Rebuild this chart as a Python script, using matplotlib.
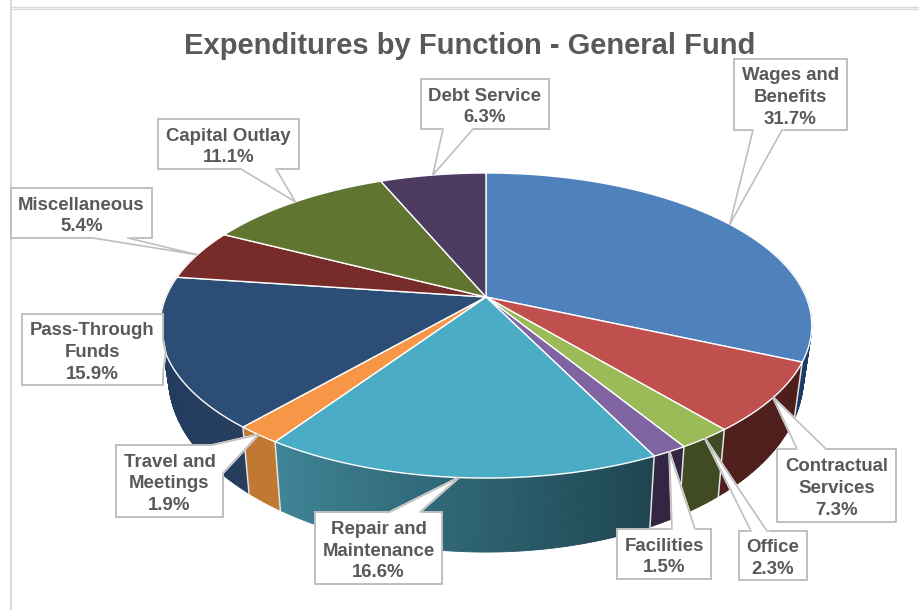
import matplotlib
matplotlib.use('Agg')
import matplotlib.pyplot as plt
import numpy as np

#===Data===#
TITLE = 'Expenditures by Function - General Fund'
names = ['Wages and\nBenefits', 'Contractual\nServices', 'Office', 'Facilities',
         'Repair and\nMaintenance', 'Travel and\nMeetings', 'Pass-Through\nFunds',
         'Miscellaneous', 'Capital Outlay', 'Debt Service']
values = [31.7, 7.3, 2.3, 1.5, 16.6, 1.9, 15.9, 5.4, 11.1, 6.3]

top_colors = ['#4F81BD', '#C0504D', '#9BBB59', '#8064A2', '#4BACC6',
              '#F79646', '#2C4D75', '#772C2A', '#5F7530', '#4D3B62']
side_start = ['#1C3C66', '#4E1E1B', '#404A22', '#332542', '#1E4450',
              '#C07832', '#253C5C', '#4E1E1B', '#404A22', '#332542']
side_end = ['#1C3C66', '#4E1E1B', '#404A22', '#332542', '#3E8496',
            '#C07832', '#1F3D66', '#4E1E1B', '#404A22', '#332542']

# label boxes: left, top, right, bottom [px]
boxes = [(734, 59, 847, 130), (777, 449, 896, 522), (739, 531, 807, 580),
         (617, 529, 711, 579), (315, 512, 442, 584), (116, 445, 223, 517),
         (22, 314, 163, 385), (11, 188, 152, 238), (158, 119, 299, 169),
         (421, 79, 549, 129)]
# where each callout tail leaves its box
tail_bases = [((753, 130), (782, 130)), ((797, 449), (826, 449)), ((751, 531), (767, 531)),
              ((672, 529), (695, 529)), ((390, 512), (420, 512)), ((213, 445), (223, 473)),
              ((163, 340), (163, 373)), ((93, 238), (128, 238)), ((241, 169), (276, 169)),
              ((443, 129), (473, 129))]

#===Pie geometry (pixels)===#
CX, CY = 486, 297
RX, RY = 320, 147.2
K = 0.187  # perspective
GREY = '#595959'
LINE = '#BFBFBF'
FRAME = '#D9D9D9'
FONT = ['Liberation Sans', 'DejaVu Sans']


def Rim(theta):
    # top face outline, theta clockwise from 12 o'clock [rad]
    u, v = np.sin(theta), np.cos(theta)
    w = 1 + K * v
    return CX + RX * u / w, CY - RY * v / w


def Bottom_Rim(theta):
    x, y = Rim(theta)
    return CX + (x - CX) * 0.975, y + 74 + 0.15 * (y - 478)


fig = plt.figure(figsize=(9.19, 6.10), dpi=100)
ax = fig.add_axes([0, 0, 1, 1])
ax.set_xlim(0, 919)
ax.set_ylim(610, 0)
ax.axis('off')

# frame of the original sheet
ax.plot([11, 11], [0, 610], color=FRAME, lw=1.4)
ax.plot([11, 919], [6.5, 6.5], color=FRAME, lw=1.0)
ax.plot([11, 919], [8.5, 8.5], color=FRAME, lw=1.0)

edges = np.radians(np.concatenate([[0], np.cumsum(values)]) * 3.6)

# side wall, strip by strip so the shading can run across a slice
for i in range(len(values)):
    t = np.linspace(edges[i], edges[i + 1], max(3, int(np.degrees(edges[i + 1] - edges[i]) * 2)))
    c0 = np.array(matplotlib.colors.to_rgb(side_start[i]))
    c1 = np.array(matplotlib.colors.to_rgb(side_end[i]))
    x_top, y_top = Rim(t)
    x_bot, y_bot = Bottom_Rim(t)
    for j in range(len(t) - 1):
        if np.cos(t[j]) > 0.3:
            continue
        col = c0 + (c1 - c0) * j / (len(t) - 2)
        ax.fill([x_top[j], x_top[j + 1], x_bot[j + 1], x_bot[j]],
                [y_top[j], y_top[j + 1], y_bot[j + 1], y_bot[j]],
                color=col, lw=0.6, zorder=2)

# slice borders on the wall
for e in edges[:-1]:
    if np.cos(e) < 0:
        x0, y0 = Rim(e)
        x1, y1 = Bottom_Rim(e)
        ax.plot([x0, x1], [y0, y1], color='#E4E4E4', lw=1.1, zorder=3)

# top face
for i in range(len(values)):
    t = np.linspace(edges[i], edges[i + 1], 120)
    x, y = Rim(t)
    ax.fill(np.r_[CX, x], np.r_[CY, y], facecolor=top_colors[i], edgecolor='white', lw=1.0, zorder=4)

# callouts
for i in range(len(values)):
    left, top, right, bottom = boxes[i]
    mid = (edges[i] + edges[i + 1]) / 2
    tip = Rim(mid)
    a, b = tail_bases[i]
    ax.fill([left, right, right, left], [top, top, bottom, bottom],
            facecolor='white', edgecolor=LINE, lw=1.4, zorder=5)
    ax.fill([a[0], b[0], tip[0]], [a[1], b[1], tip[1]],
            facecolor='white', edgecolor='white', lw=1.6, zorder=6)
    ax.plot([a[0], tip[0], b[0]], [a[1], tip[1], b[1]], color=LINE, lw=1.2, zorder=7)
    ax.text((left + right) / 2, (top + bottom) / 2 + 3, f'{names[i]}\n{values[i]}%',
            ha='center', va='center', family=FONT, fontweight='bold', fontsize=13.4,
            color=GREY, linespacing=1.38, zorder=8)

ax.text(470, 54, TITLE, ha='center', va='baseline', family=FONT, fontweight='bold',
        fontsize=21, color=GREY, zorder=8)

fig.savefig('out.png', dpi=100)
